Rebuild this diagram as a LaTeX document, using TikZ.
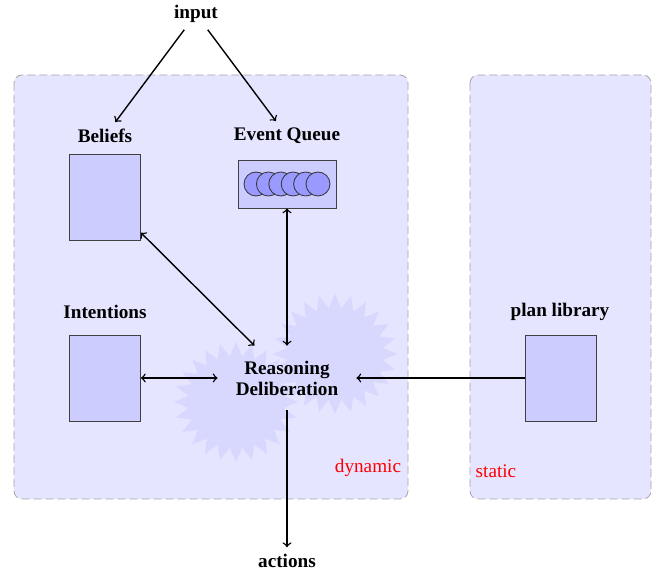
\documentclass[tikz,border=0pt]{standalone}
\usepackage{fontspec}
\setmainfont{Liberation Serif}
\usetikzlibrary{shapes.symbols}
\definecolor{zonefill}{RGB}{229,229,255}
\definecolor{burstfill}{RGB}{216,216,255}
\definecolor{storefill}{RGB}{204,204,255}
\definecolor{tokenfill}{RGB}{153,153,255}

\begin{document}
\begin{tikzpicture}[x=0.5pt, y=-0.5pt, >=to,
	zone/.style={draw=black!35, dash pattern=on 4pt off 2pt, fill=zonefill, rounded corners=4pt},
	burst/.style={starburst, fill=burstfill, starburst points=24, starburst point height=7pt, random starburst=0, minimum width=62pt, minimum height=60pt, inner sep=0pt},
	store/.style={draw=black!75, fill=storefill, minimum width=35.5pt, minimum height=43pt, inner sep=0pt},
	lbl/.style={font=\fontsize{9.6}{10.5}\selectfont\bfseries},
	note/.style={text=red, font=\fontsize{9.6}{10.5}\selectfont},
	link/.style={line width=0.7pt}]
		%%%%% START %%%%%
		\useasboundingbox (0, 0) rectangle (660, 571);
		
		% the two areas
		\draw[zone] (14, 75) rectangle (408, 499);
		\draw[zone] (470, 75) rectangle (651, 499);
		\node[note] (dyn) at (368, 468) {dynamic};
		\node[note] (stat) at (496, 471) {static};
		
		% deliberation cloud
		\node[burst] (burstA) at (236, 402) {};
		\node[burst] (burstB) at (335, 354) {};
		\node[lbl, align=center, minimum width=69pt, minimum height=32pt] (reason) at (287, 378) {Reasoning\\Deliberation};
		
		% beliefs and intentions
		\node[store] (beliefs) at (105, 197) {};
		\node[lbl] (belieflbl) at (105, 136) {Beliefs};
		\node[store] (intent) at (105, 378) {};
		\node[lbl] (intentlbl) at (105, 312) {Intentions};
		
		% event queue
		\node[store, minimum width=49pt, minimum height=24pt] (queue) at (287, 184) {};
		\foreach \i in {0,...,5}
			\draw[draw=black!80, fill=tokenfill] (256+12.4*\i, 184) circle (12);
		\node[lbl] (queuelbl) at (287, 136) {Event Queue};
		
		% plan library
		\node[store] (plans) at (560.5, 378) {};
		\node[lbl] (planlbl) at (560, 312) {plan library};
		
		% in and out
		\node[lbl] (input) at (196, 14) {input};
		\node[lbl] (actions) at (287, 561) {actions};
		
		\draw[link, ->] (input) -- (belieflbl);
		\draw[link, ->] (input) -- (queuelbl);
		\draw[link, <->] (beliefs) -- (reason);
		\draw[link, <->] (queue) -- (reason);
		\draw[link, <->] (intent) -- (reason);
		\draw[link, ->] (plans) -- (reason);
		\draw[link, ->] (reason) -- (actions);
		%%%%% END %%%%%
	\end{tikzpicture}
\end{document}
